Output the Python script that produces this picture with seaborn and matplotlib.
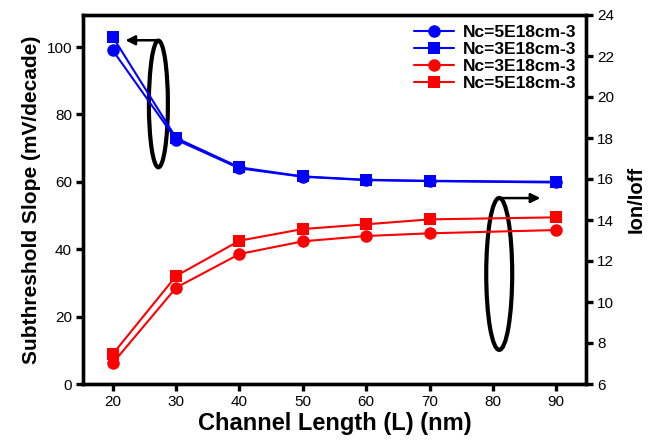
import matplotlib
matplotlib.use("Agg")
import matplotlib.pyplot as plt
from matplotlib.patches import Ellipse
import seaborn as sns
import pandas as pd

sns.set_theme(style="ticks")
plt.rcParams['font.family'] = ['Liberation Sans', 'DejaVu Sans']
plt.rcParams['text.color'] = 'black'
plt.rcParams['axes.labelcolor'] = 'black'
plt.rcParams['xtick.color'] = 'black'
plt.rcParams['ytick.color'] = 'black'

length_nm = [20, 30, 40, 50, 60, 70, 90]
ss_nc5 = [99.0, 72.5, 64.0, 61.5, 60.5, 60.2, 59.8]
ss_nc3 = [103.0, 73.0, 64.3, 61.6, 60.6, 60.3, 60.0]
ratio_nc3 = [7.02, 10.70, 12.34, 12.96, 13.22, 13.35, 13.51]
ratio_nc5 = [7.46, 11.27, 12.99, 13.56, 13.79, 14.03, 14.13]
x_ticks = [20, 30, 40, 50, 60, 70, 80, 90]

labels = ["Nc=5E18cm-3", "Nc=3E18cm-3", "Nc=3E18cm-3", "Nc=5E18cm-3"]

fig = plt.figure(figsize=(6.55, 4.43), dpi=100)
ax = fig.add_axes([83/655, 1-384/443, (586-83)/655, (384-15)/443])
ax2 = ax.twinx()

df = pd.DataFrame({"L": length_nm, "ss5": ss_nc5, "ss3": ss_nc3,
                   "r3": ratio_nc3, "r5": ratio_nc5})

lw = 1.5
sns.lineplot(data=df, x="L", y="ss5", ax=ax, color="blue", marker="o",
             markersize=9, markeredgewidth=0, linewidth=lw, label=labels[0], legend=False)
sns.lineplot(data=df, x="L", y="ss3", ax=ax, color="blue", marker="s",
             markersize=8, markeredgewidth=0, linewidth=lw, label=labels[1], legend=False)
sns.lineplot(data=df, x="L", y="r3", ax=ax2, color="red", marker="o",
             markersize=9, markeredgewidth=0, linewidth=lw, label=labels[2], legend=False)
sns.lineplot(data=df, x="L", y="r5", ax=ax2, color="red", marker="s",
             markersize=8, markeredgewidth=0, linewidth=lw, label=labels[3], legend=False)

ax.set_xlim(15.3, 94.7)
ax.set_ylim(0, 109.5)
ax2.set_ylim(6, 24)
ax.set_xticks(x_ticks)
ax.set_yticks([0, 20, 40, 60, 80, 100])
ax2.set_yticks([6, 8, 10, 12, 14, 16, 18, 20, 22, 24])

for a in (ax, ax2):
    for s in a.spines.values():
        s.set_linewidth(2.4)
        s.set_color("black")
    a.tick_params(axis="both", which="major", length=5, width=2.4,
                  labelsize=11, color="black", labelcolor="black", pad=3)

ax.set_xlabel("Channel Length (L) (nm)", fontsize=17, fontweight="bold",
              labelpad=2, color="black")
ax.set_ylabel("Subthreshold Slope (mV/decade)", fontsize=15, fontweight="bold",
              labelpad=4, color="black")
ax2.set_ylabel("Ion/Ioff", fontsize=14.5, fontweight="bold", labelpad=9, color="black")

# annotations: ellipses and arrows
ax.add_patch(Ellipse((27.2, 83.1), 3.0, 37.6, fill=False, edgecolor="black", linewidth=3))
ax.annotate("", xy=(22.0, 102.0), xytext=(27.2, 102.0),
            arrowprops=dict(arrowstyle="-|>", color="black", lw=1.8, mutation_scale=14,
                            shrinkA=0, shrinkB=0))
ax2.add_patch(Ellipse((81.0, 11.37), 4.1, 7.41, fill=False, edgecolor="black", linewidth=3))
ax2.annotate("", xy=(87.5, 15.07), xytext=(81.0, 15.07),
             arrowprops=dict(arrowstyle="-|>", color="black", lw=1.8, mutation_scale=14,
                             shrinkA=0, shrinkB=0))

h1, l1 = ax.get_legend_handles_labels()
h2, l2 = ax2.get_legend_handles_labels()
leg = ax2.legend(h1 + h2, l1 + l2, loc="upper right", frameon=False,
                 prop={"weight": "bold", "size": 12.5}, handlelength=2.3,
                 borderaxespad=0.15, labelspacing=0.12, handletextpad=0.5)

fig.savefig("out.png", dpi=100)
